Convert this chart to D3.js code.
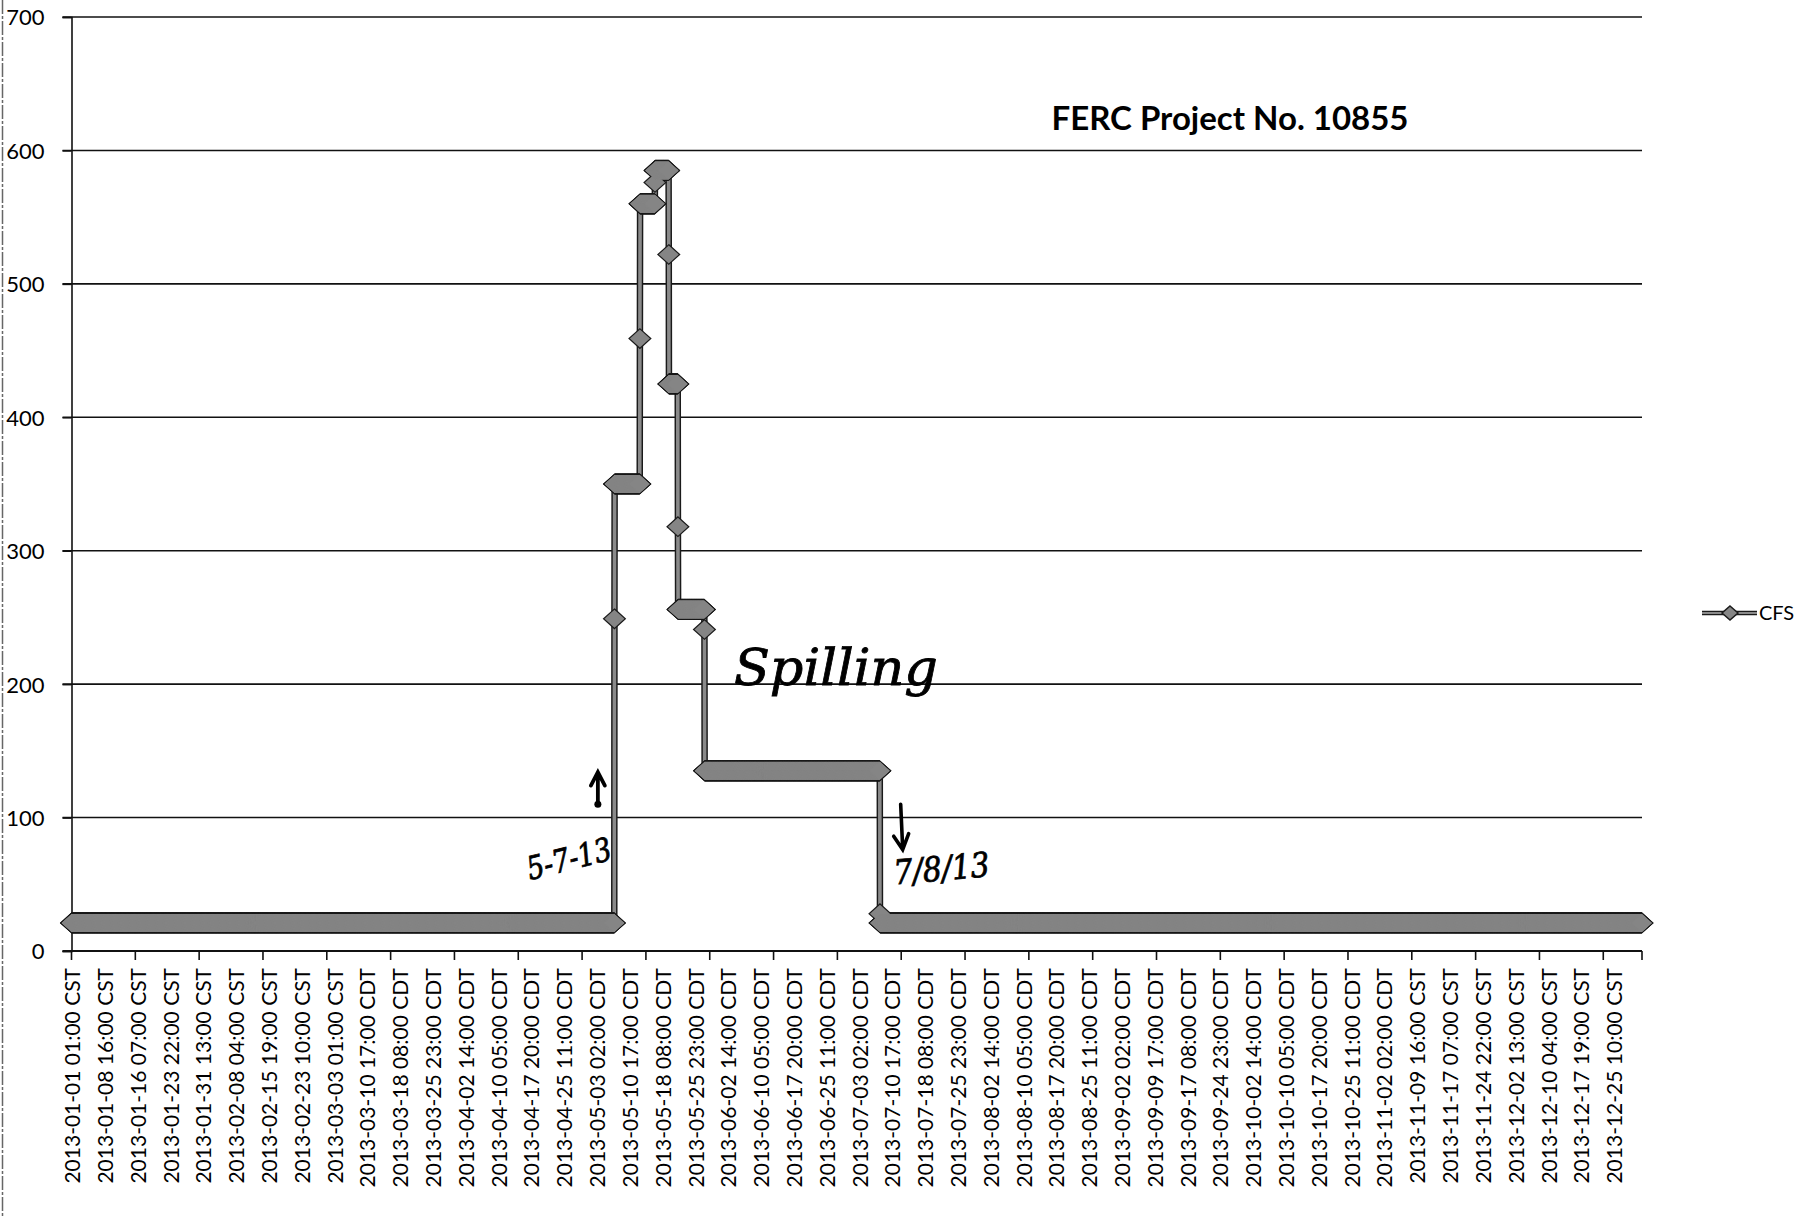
<!DOCTYPE html>
<html>
<head>
<meta charset="utf-8">
<script src="https://cdn.jsdelivr.net/npm/d3@7"></script>
<style>
  html, body { margin: 0; padding: 0; background: #fff; }
  svg { display: block; }
</style>
</head>
<body>
<svg id="chart" width="1808" height="1217"></svg>
<script>
// ---------------- DATA ----------------
const title = "FERC Project No. 10855";
const seriesName = "CFS";
// hourly series, first point 2013-01-01 01:00, 8760 points (constant-level runs)
const seriesStart = "2013-01-01 01:00";
const pointCount = 8760;
const runStart = [
  "2013-01-01 01:00", "2013-05-07 05:00", "2013-05-07 06:00",
  "2013-05-13 03:00", "2013-05-13 04:00", "2013-05-16 15:00",
  "2013-05-16 16:00", "2013-05-19 20:00", "2013-05-19 21:00",
  "2013-05-21 23:00", "2013-05-22 00:00", "2013-05-28 03:00",
  "2013-05-28 04:00", "2013-07-07 22:00", "2013-07-07 23:00"
];
const runCFS = [21, 249, 350, 459, 560, 576, 585, 522, 425, 318, 256, 241, 135, 28, 21];

const yTicks = [0, 100, 200, 300, 400, 500, 600, 700];
const labelEvery = 183;   // categories between axis labels
const tickEvery = 356;    // categories between tick marks
const xLabels = [
  "2013-01-01 01:00 CST","2013-01-08 16:00 CST","2013-01-16 07:00 CST","2013-01-23 22:00 CST",
  "2013-01-31 13:00 CST","2013-02-08 04:00 CST","2013-02-15 19:00 CST","2013-02-23 10:00 CST",
  "2013-03-03 01:00 CST","2013-03-10 17:00 CDT","2013-03-18 08:00 CDT","2013-03-25 23:00 CDT",
  "2013-04-02 14:00 CDT","2013-04-10 05:00 CDT","2013-04-17 20:00 CDT","2013-04-25 11:00 CDT",
  "2013-05-03 02:00 CDT","2013-05-10 17:00 CDT","2013-05-18 08:00 CDT","2013-05-25 23:00 CDT",
  "2013-06-02 14:00 CDT","2013-06-10 05:00 CDT","2013-06-17 20:00 CDT","2013-06-25 11:00 CDT",
  "2013-07-03 02:00 CDT","2013-07-10 17:00 CDT","2013-07-18 08:00 CDT","2013-07-25 23:00 CDT",
  "2013-08-02 14:00 CDT","2013-08-10 05:00 CDT","2013-08-17 20:00 CDT","2013-08-25 11:00 CDT",
  "2013-09-02 02:00 CDT","2013-09-09 17:00 CDT","2013-09-17 08:00 CDT","2013-09-24 23:00 CDT",
  "2013-10-02 14:00 CDT","2013-10-10 05:00 CDT","2013-10-17 20:00 CDT","2013-10-25 11:00 CDT",
  "2013-11-02 02:00 CDT","2013-11-09 16:00 CST","2013-11-17 07:00 CST","2013-11-24 22:00 CST",
  "2013-12-02 13:00 CST","2013-12-10 04:00 CST","2013-12-17 19:00 CST","2013-12-25 10:00 CST"
];
// handwritten notes
const notes = [
  { text: "Spilling", date: "2013-06-04 00:00", cfs: 199 },
  { text: "5-7-13",  date: "2013-04-27 07:00", cfs: 61 },
  { text: "7/8/13",  date: "2013-07-22 12:00", cfs: 53 }
];
const arrowUp = { date: "2013-05-03 09:00", from: 110, to: 134 };
const arrowDown = { date: "2013-07-12 18:00", from: 110, to: 76 };

// ---------------- HELPERS ----------------
function parseStamp(s) {
  const m = s.match(/(\d+)-(\d+)-(\d+) (\d+):(\d+)/);
  return Date.UTC(+m[1], +m[2] - 1, +m[3], +m[4], +m[5]);
}
function hourIndex(s) {
  return Math.round((parseStamp(s) - parseStamp(seriesStart)) / 3600000);
}
const runIdx = runStart.map(hourIndex);
const data = [];
let r = 0;
for (let i = 0; i < pointCount; i++) {
  while (r + 1 < runIdx.length && runIdx[r + 1] <= i) r++;
  data.push({ i: i, v: runCFS[r] });
}

// ---------------- LAYOUT ----------------
const plot = { left: 71.5, right: 1642, top: 17, bottom: 951 };
const svg = d3.select("#chart");
svg.append("rect").attr("width", 1808).attr("height", 1217).attr("fill", "#fff");

// scanned page edge
svg.append("line").attr("x1", 2.5).attr("x2", 2.5).attr("y1", 0).attr("y2", 1217)
  .attr("stroke", "#666").attr("stroke-width", 1.5).attr("stroke-dasharray", "14 2 3 2");

const x = d3.scaleLinear().domain([0, pointCount]).range([plot.left, plot.right]);
const xc = i => x(i + 0.5);
const y = d3.scaleLinear().domain([0, 700]).range([plot.bottom, plot.top]);

const font = "Lato, 'Open Sans', sans-serif";

// gridlines
svg.append("g").selectAll("line").data(yTicks.filter(d => d > 0)).join("line")
  .attr("x1", plot.left - 9).attr("x2", plot.right)
  .attr("y1", d => y(d)).attr("y2", d => y(d))
  .attr("stroke", "#111").attr("stroke-width", 1.6);

// y axis
const yAxis = d3.axisLeft(y).tickValues(yTicks).tickSize(9).tickPadding(18);
const gy = svg.append("g").attr("transform", `translate(${plot.left},0)`).call(yAxis);
gy.select(".domain").attr("stroke", "#111").attr("stroke-width", 1.6);
gy.selectAll(".tick line").attr("stroke", "#111").attr("stroke-width", 1.6);
gy.selectAll("text").attr("font-family", font).attr("font-size", 22).attr("fill", "#000")
  .attr("x", -27).attr("dy", "0.36em");

// x axis (category)
const tickPos = d3.range(0, pointCount, tickEvery).concat([pointCount]);
const gx = svg.append("g");
gx.append("line").attr("x1", plot.left - 9).attr("x2", plot.right)
  .attr("y1", plot.bottom).attr("y2", plot.bottom).attr("stroke", "#111").attr("stroke-width", 1.8);
gx.selectAll("line.tk").data(tickPos).join("line").attr("class", "tk")
  .attr("x1", d => x(d)).attr("x2", d => x(d))
  .attr("y1", plot.bottom).attr("y2", plot.bottom + 9)
  .attr("stroke", "#111").attr("stroke-width", 1.6);
gx.selectAll("text").data(xLabels).join("text")
  .attr("transform", (d, k) => `translate(${xc(k * labelEvery) + 1},${plot.bottom + 17}) rotate(-90)`)
  .attr("text-anchor", "end").attr("dy", "0.36em")
  .attr("font-family", font).attr("font-size", 21).attr("fill", "#000")
  .text(d => d);

// series line
const line = d3.line().x(d => xc(d.i)).y(d => y(d.v));
svg.append("path").datum(data).attr("d", line).attr("fill", "none")
  .attr("stroke", "#1a1a1a").attr("stroke-width", 6.5).attr("stroke-linejoin", "miter");
svg.append("path").datum(data).attr("d", line).attr("fill", "none")
  .attr("stroke", "#8a8a8a").attr("stroke-width", 3.6).attr("stroke-linejoin", "miter");

// markers (diamonds): dark outline layer, then gray fill layer
const mw = 10, mh = 9;
const diamond = `M0,${-mh}L${mw},0L0,${mh}L${-mw},0Z`;
svg.append("g").selectAll("path").data(data).join("path")
  .attr("transform", d => `translate(${xc(d.i)},${y(d.v)})`)
  .attr("d", diamond).attr("fill", "#1a1a1a").attr("stroke", "#1a1a1a").attr("stroke-width", 2.4)
  .attr("stroke-linejoin", "miter");
svg.append("g").selectAll("path").data(data).join("path")
  .attr("transform", d => `translate(${xc(d.i)},${y(d.v)})`)
  .attr("d", diamond).attr("fill", "#858585");

// title
svg.append("text").attr("x", 1230).attr("y", 130).attr("text-anchor", "middle")
  .attr("font-family", font).attr("font-weight", "bold").attr("font-size", 33).attr("fill", "#000")
  .text(title);

// legend
const lg = svg.append("g").attr("transform", "translate(1702,613)");
lg.append("line").attr("x1", 0).attr("x2", 55).attr("stroke", "#1a1a1a").attr("stroke-width", 4.5);
lg.append("line").attr("x1", 0).attr("x2", 55).attr("stroke", "#8a8a8a").attr("stroke-width", 2);
lg.append("path").attr("transform", "translate(28,0)").attr("d", "M0,-7L8,0L0,7L-8,0Z")
  .attr("fill", "#868686").attr("stroke", "#1a1a1a").attr("stroke-width", 1.5);
lg.append("text").attr("x", 57).attr("dy", "0.36em").attr("font-family", font)
  .attr("font-size", 20).attr("fill", "#000").text(seriesName);

// handwritten notes
const hand = "'DejaVu Serif', serif";
const nSpill = notes[0], nRise = notes[1], nEnd = notes[2];
svg.append("text").attr("x", x(hourIndex(nSpill.date))).attr("y", y(nSpill.cfs))
  .attr("font-family", hand).attr("font-style", "italic").attr("font-size", 50)
  .attr("textLength", 204).attr("lengthAdjust", "spacingAndGlyphs")
  .attr("fill", "#000").attr("stroke", "#000").attr("stroke-width", 0.8)
  .text(nSpill.text);
svg.append("text")
  .attr("transform", `translate(${x(hourIndex(nRise.date))},${y(nRise.cfs)}) rotate(-14)`)
  .attr("text-anchor", "middle")
  .attr("font-family", hand).attr("font-style", "italic").attr("font-size", 32)
  .attr("textLength", 86).attr("lengthAdjust", "spacingAndGlyphs")
  .attr("fill", "#000").attr("stroke", "#000").attr("stroke-width", 0.8)
  .text(nRise.text);
svg.append("text")
  .attr("transform", `translate(${x(hourIndex(nEnd.date))},${y(nEnd.cfs)}) rotate(-5)`)
  .attr("text-anchor", "middle")
  .attr("font-family", hand).attr("font-style", "italic").attr("font-size", 34)
  .attr("textLength", 96).attr("lengthAdjust", "spacingAndGlyphs")
  .attr("fill", "#000").attr("stroke", "#000").attr("stroke-width", 0.8)
  .text(nEnd.text);

// arrows
const ax1 = x(hourIndex(arrowUp.date));
svg.append("path").attr("d", `M${ax1},${y(arrowUp.from)} L${ax1},${y(arrowUp.to - 2)} M${ax1 - 7},${y(arrowUp.to - 10)} L${ax1},${y(arrowUp.to)} L${ax1 + 7},${y(arrowUp.to - 10)}`)
  .attr("fill", "none").attr("stroke", "#000").attr("stroke-width", 3.8).attr("stroke-linecap", "round");
svg.append("circle").attr("cx", ax1).attr("cy", y(arrowUp.from)).attr("r", 3.5).attr("fill", "#000");
const ax2 = x(hourIndex(arrowDown.date));
svg.append("path").attr("d", `M${ax2},${y(arrowDown.from)} L${ax2 + 2},${y(arrowDown.to + 1)} M${ax2 - 7},${y(arrowDown.to + 10)} L${ax2 + 2},${y(arrowDown.to)} L${ax2 + 8},${y(arrowDown.to + 12)}`)
  .attr("fill", "none").attr("stroke", "#000").attr("stroke-width", 3.6).attr("stroke-linecap", "round");
</script>
</body>
</html>
